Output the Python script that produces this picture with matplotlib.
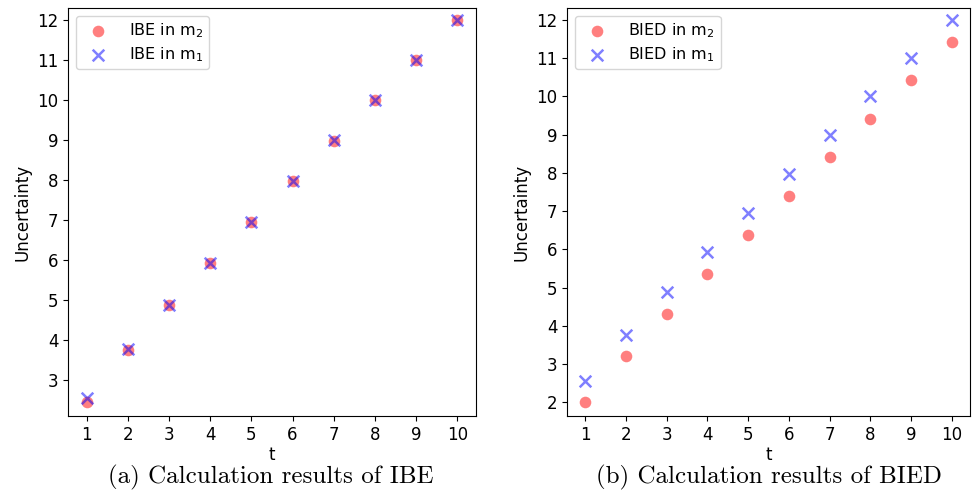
import matplotlib
matplotlib.use("Agg")
import matplotlib.pyplot as plt

t = [1, 2, 3, 4, 5, 6, 7, 8, 9, 10]
ibe_m2 = [2.45, 3.76, 4.87, 5.92, 6.95, 7.97, 8.98, 9.99, 11.0, 12.0]
ibe_m1 = [2.56, 3.77, 4.88, 5.93, 6.96, 7.98, 8.99, 10.0, 11.0, 12.0]
bied_m2 = [2.0, 3.2, 4.3, 5.36, 6.38, 7.4, 8.41, 9.42, 10.42, 11.43]
bied_m1 = [2.56, 3.77, 4.88, 5.93, 6.96, 7.98, 8.99, 10.0, 11.0, 12.0]
yticks_a = [3, 4, 5, 6, 7, 8, 9, 10, 11, 12]
yticks_b = [2, 3, 4, 5, 6, 7, 8, 9, 10, 11, 12]

plt.rcParams["font.size"] = 12

fig = plt.figure(figsize=(9.76, 4.93), dpi=100)
ax1 = fig.add_axes([68 / 976, 77 / 493, 408 / 976, 408 / 493])
ax2 = fig.add_axes([567 / 976, 77 / 493, 403 / 976, 408 / 493])

panels = [
    (ax1, ibe_m2, ibe_m1, "IBE", yticks_a, "(a) Calculation results of IBE", 271),
    (ax2, bied_m2, bied_m1, "BIED", yticks_b, "(b) Calculation results of BIED", 769),
]
for ax, m2, m1, name, yt, caption, cx in panels:
    ax.scatter(t, m2, s=70, color="red", alpha=0.5, linewidths=0,
               label=name + r" in m$_2$")
    ax.scatter(t, m1, s=70, color="blue", alpha=0.5, marker="x",
               linewidths=1.8, label=name + r" in m$_1$")
    ax.set_xticks(t)
    ax.set_yticks(yt)
    ax.set_xlim(0.55, 10.45)
    ax.set_xlabel("t", labelpad=2)
    ax.set_ylabel("Uncertainty")
    ax.legend(loc="upper left", fontsize=11.5, handletextpad=1.0,
              borderpad=0.35, labelspacing=0.3)
    fig.text(cx / 976, 1 - 477 / 493, caption, family="cmr10",
             fontsize=18, ha="center", va="center")

ax1.set_ylim(2.1, 12.3)
ax2.set_ylim(1.64, 12.31)

fig.savefig("out.png", dpi=100)
